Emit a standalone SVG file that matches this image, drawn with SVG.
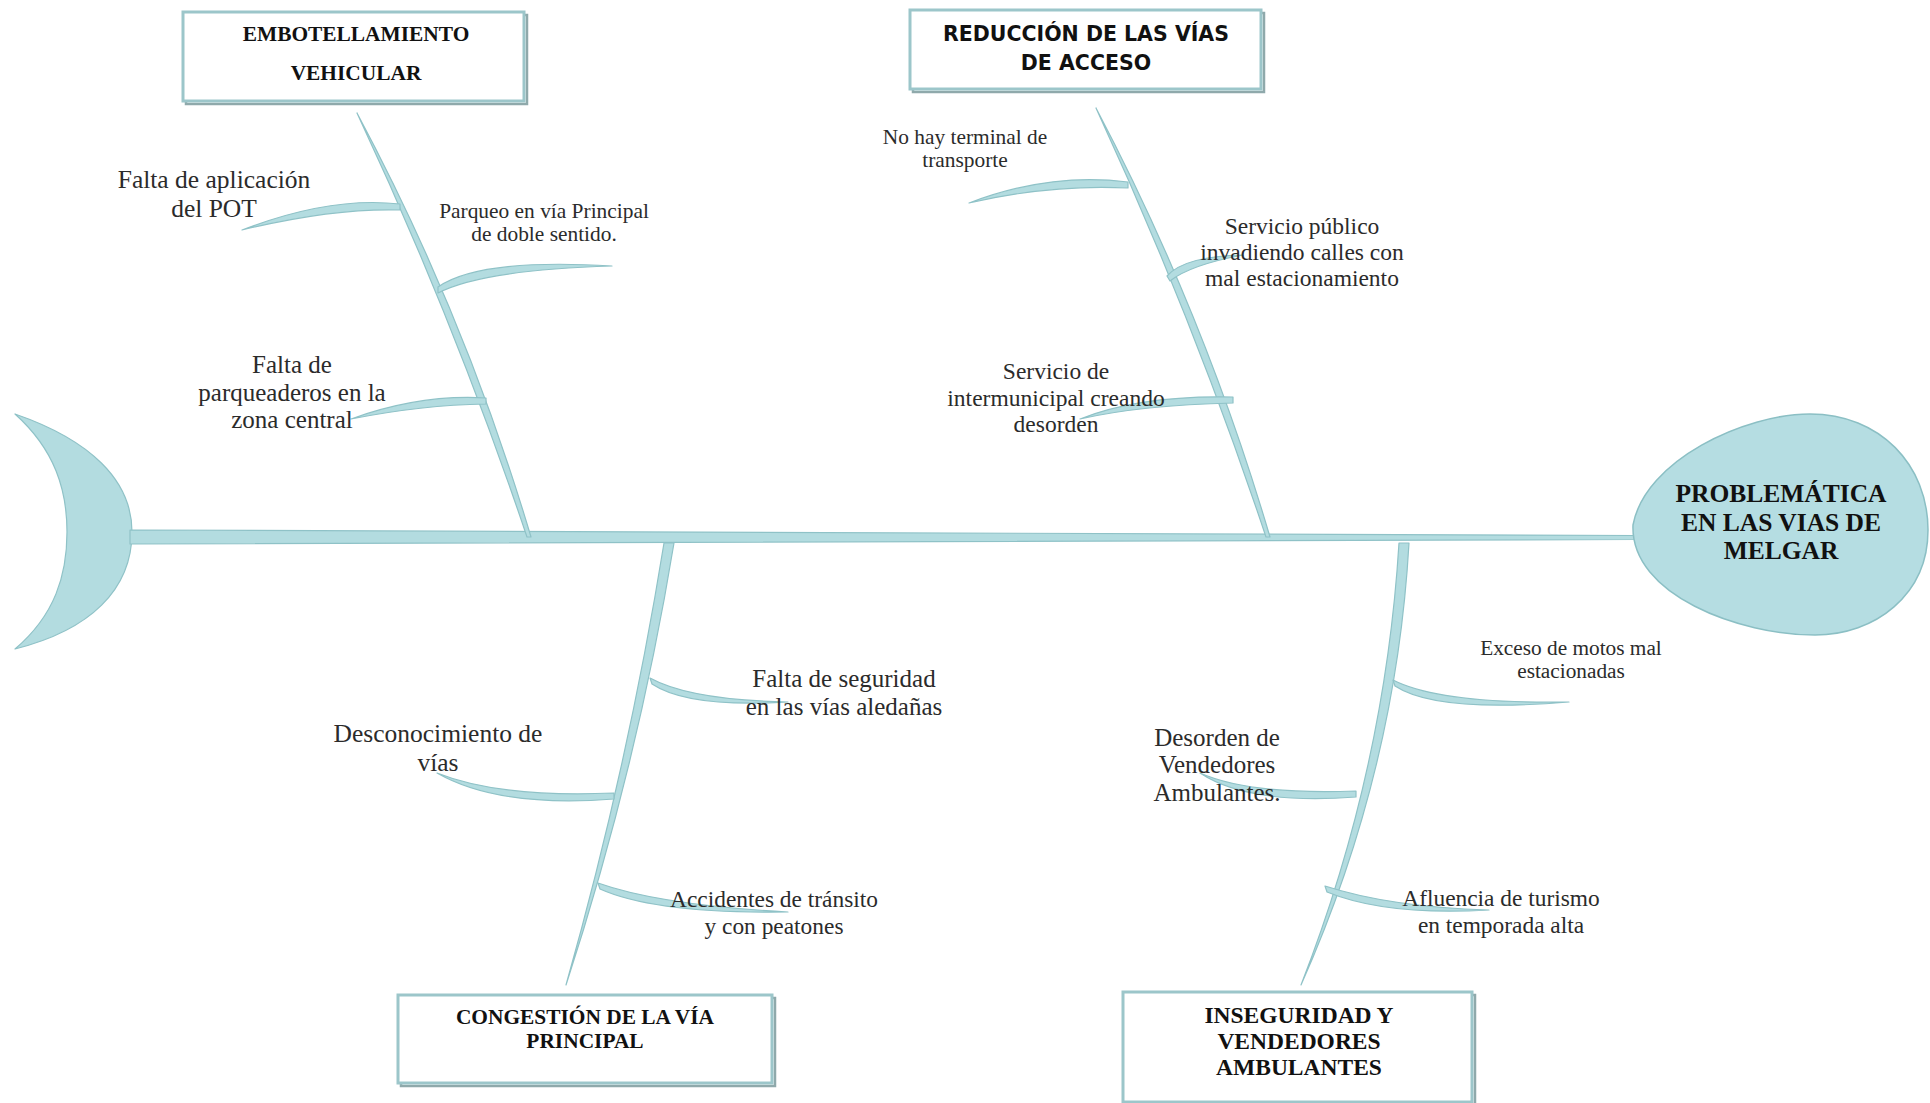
<svg xmlns="http://www.w3.org/2000/svg" width="1930" height="1103" viewBox="0 0 1930 1103">
<style>
.bone{fill:#b3dce0;stroke:#8fc2c7;stroke-width:1.2;stroke-linejoin:round}
.box{fill:#ffffff;stroke:#9cc6ca;stroke-width:3}
.shadow{fill:none;stroke:#8fa9ab;stroke-width:2.5}
.title{font-family:"Liberation Serif",serif;font-weight:bold;fill:#111;text-anchor:middle}
.comic{font-family:"DejaVu Sans",sans-serif;font-weight:bold;fill:#111;text-anchor:middle}
.lbl{font-family:"Liberation Serif",serif;fill:#2b2b2b;text-anchor:middle}
</style>
<rect width="1930" height="1103" fill="#ffffff"/>

<g id="tail">
<path class="bone" d="M15,414 C90,440 132,480 132,532 C132,590 90,630 15,649 C55,615 67,575 67,532 C67,490 55,450 15,414 Z"/>
</g>

<g id="connectors">
<path id="spine" class="bone" d="M130,530 L1636,535.5 L1636,539.5 L130,544 Z"/>
<!-- main bones -->
<path class="bone" d="M357,113 Q454,320 527,537 L531,537 Q465,315 357,113 Z"/>
<path class="bone" d="M1096,108 Q1193,318 1266,537 L1270,537 Q1204,313 1096,108 Z"/>
<path class="bone" d="M664,543 Q628,766 566,985 Q637,768 674,543 Z"/>
<path class="bone" d="M1399,543 Q1385,770 1301,985 Q1396,772 1409,543 Z"/>
<!-- sub bones -->
<path class="bone" d="M400,204 Q330,196 242,230 Q333,208 400,210 Z"/>
<path class="bone" d="M438,287 Q480,258 612,266 Q482,270 438,293 Z"/>
<path class="bone" d="M486,398 Q420,394 351,419 Q422,405 486,404 Z"/>
<path class="bone" d="M1128,182 Q1050,172 969,203 Q1052,184 1128,188 Z"/>
<path class="bone" d="M1167,276 Q1185,256 1243,255 Q1190,265 1170,281 Z"/>
<path class="bone" d="M1233,397 Q1140,395 1080,419 Q1142,405 1233,403 Z"/>
<path class="bone" d="M650,678 Q690,700 788,702 Q688,708 652,684 Z"/>
<path class="bone" d="M614,793 Q500,798 437,773 Q498,808 614,799 Z"/>
<path class="bone" d="M598,883 Q660,905 788,912 Q656,914 600,889 Z"/>
<path class="bone" d="M1393,680 Q1440,704 1569,702 Q1436,713 1395,686 Z"/>
<path class="bone" d="M1356,791 Q1250,795 1200,773 Q1248,805 1356,797 Z"/>
<path class="bone" d="M1325,886 Q1390,907 1489,910 Q1386,916 1327,892 Z"/>
</g>

<g id="head">
<path d="M1633,525 C1645,460 1745,414 1810,414 C1880,414 1928,465 1928,530 C1928,595 1875,635 1815,635 C1740,635 1630,595 1633,525 Z" fill="#b5dde2" stroke="#8bbfc4" stroke-width="1.5"/>
<text class="title" font-size="25.5" x="1781" y="502">PROBLEMÁTICA</text>
<text class="title" font-size="25.5" x="1781" y="531">EN LAS VIAS DE</text>
<text class="title" font-size="25.5" x="1781" y="559">MELGAR</text>
</g>

<g id="box-embotellamiento">
<rect class="shadow" x="186" y="15" width="341" height="89"/>
<rect class="box" x="183" y="12" width="341" height="89"/>
<text class="title" font-size="21.4" x="356" y="41">EMBOTELLAMIENTO</text>
<text class="title" font-size="21.4" x="356" y="80">VEHICULAR</text>
</g>

<g id="box-reduccion">
<rect class="shadow" x="913" y="13" width="351" height="79"/>
<rect class="box" x="910" y="10" width="351" height="79"/>
<text class="comic" font-size="20.5" x="1086" y="41">REDUCCIÓN DE LAS VÍAS</text>
<text class="comic" font-size="20.5" x="1086" y="70">DE ACCESO</text>
</g>

<g id="box-congestion">
<rect class="shadow" x="401" y="998" width="374" height="88"/>
<rect class="box" x="398" y="995" width="374" height="88"/>
<text class="title" font-size="21.4" x="585" y="1024">CONGESTIÓN DE LA VÍA</text>
<text class="title" font-size="21.4" x="585" y="1048">PRINCIPAL</text>
</g>

<g id="box-inseguridad">
<rect class="shadow" x="1126" y="995" width="349" height="110"/>
<rect class="box" x="1123" y="992" width="349" height="110"/>
<text class="title" font-size="23.5" x="1299" y="1023">INSEGURIDAD Y</text>
<text class="title" font-size="23.5" x="1299" y="1049">VENDEDORES</text>
<text class="title" font-size="23.5" x="1299" y="1075">AMBULANTES</text>
</g>

<g id="cause-pot">
<text class="lbl" font-size="25.5" x="214" y="188">Falta de aplicación</text>
<text class="lbl" font-size="25.5" x="214" y="217">del POT</text>
</g>
<g id="cause-parqueo">
<text class="lbl" font-size="21.4" x="544" y="218">Parqueo en vía Principal</text>
<text class="lbl" font-size="21.4" x="544" y="241">de doble sentido.</text>
</g>
<g id="cause-parqueaderos">
<text class="lbl" font-size="25" x="292" y="373">Falta de</text>
<text class="lbl" font-size="25" x="292" y="401">parqueaderos en la</text>
<text class="lbl" font-size="25" x="292" y="428">zona central</text>
</g>
<g id="cause-terminal">
<text class="lbl" font-size="21.4" x="965" y="144">No hay terminal de</text>
<text class="lbl" font-size="21.4" x="965" y="167">transporte</text>
</g>
<g id="cause-servicio-publico">
<text class="lbl" font-size="23.5" x="1302" y="234">Servicio público</text>
<text class="lbl" font-size="23.5" x="1302" y="260">invadiendo calles con</text>
<text class="lbl" font-size="23.5" x="1302" y="286">mal estacionamiento</text>
</g>
<g id="cause-intermunicipal">
<text class="lbl" font-size="23.5" x="1056" y="379">Servicio de</text>
<text class="lbl" font-size="23.5" x="1056" y="406">intermunicipal creando</text>
<text class="lbl" font-size="23.5" x="1056" y="432">desorden</text>
</g>
<g id="cause-seguridad">
<text class="lbl" font-size="25" x="844" y="687">Falta de seguridad</text>
<text class="lbl" font-size="25" x="844" y="715">en las vías aledañas</text>
</g>
<g id="cause-desconocimiento">
<text class="lbl" font-size="25.5" x="438" y="742">Desconocimiento de</text>
<text class="lbl" font-size="25.5" x="438" y="771">vías</text>
</g>
<g id="cause-accidentes">
<text class="lbl" font-size="23.4" x="774" y="907">Accidentes de tránsito</text>
<text class="lbl" font-size="23.4" x="774" y="934">y con peatones</text>
</g>
<g id="cause-motos">
<text class="lbl" font-size="21.3" x="1571" y="655">Exceso de motos mal</text>
<text class="lbl" font-size="21.3" x="1571" y="678">estacionadas</text>
</g>
<g id="cause-vendedores">
<text class="lbl" font-size="25" x="1217" y="746">Desorden de</text>
<text class="lbl" font-size="25" x="1217" y="773">Vendedores</text>
<text class="lbl" font-size="25" x="1217" y="801">Ambulantes.</text>
</g>
<g id="cause-turismo">
<text class="lbl" font-size="23.4" x="1501" y="906">Afluencia de turismo</text>
<text class="lbl" font-size="23.4" x="1501" y="933">en temporada alta</text>
</g>
</svg>
